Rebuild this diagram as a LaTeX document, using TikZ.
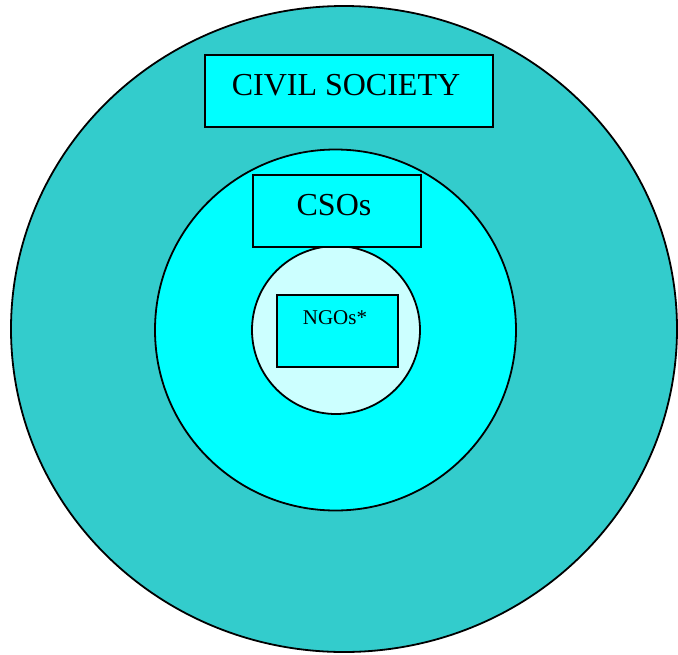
\documentclass[tikz,border=0pt]{standalone}
\usepackage{fontspec}
\setmainfont{Liberation Serif}
\definecolor{outerc}{HTML}{33CCCC}
\definecolor{midc}{HTML}{00FFFF}
\definecolor{innerc}{HTML}{CCFFFF}
\begin{document}
\begin{tikzpicture}[x=1pt,y=-1pt,
  ring/.style={draw=black,line width=1.8pt},
  labelbox/.style={draw=black,line width=1.8pt,fill=midc,inner sep=0pt,anchor=north west},
  lbl/.style={inner sep=0pt,anchor=center}]
\useasboundingbox (0,0) rectangle (678,654);
\path[ring,fill=outerc] (344,329) ellipse [x radius=333, y radius=323];
\node[ring,fill=midc,circle,minimum size=361pt,inner sep=0pt] (mid) at (335.5,330) {};
\node[ring,fill=innerc,circle,minimum size=168pt,inner sep=0pt] (inner) at (336,330) {};
\node[labelbox,minimum width=288pt,minimum height=72pt] (cs) at (204,54) {};
\node[labelbox,minimum width=168pt,minimum height=72pt] (cso) at (252,174) {};
\node[labelbox,minimum width=121pt,minimum height=72pt] (ngo) at (276,294) {};
\node[lbl,font=\fontsize{32}{32}\selectfont] (cst) at (346,85) {CIVIL SOCIETY};
\node[lbl,font=\fontsize{32}{32}\selectfont] (csot) at (334,205) {CSOs};
\node[lbl,font=\fontsize{21}{21}\selectfont] (ngot) at (335,318) {NGOs*};
\end{tikzpicture}
\end{document}
